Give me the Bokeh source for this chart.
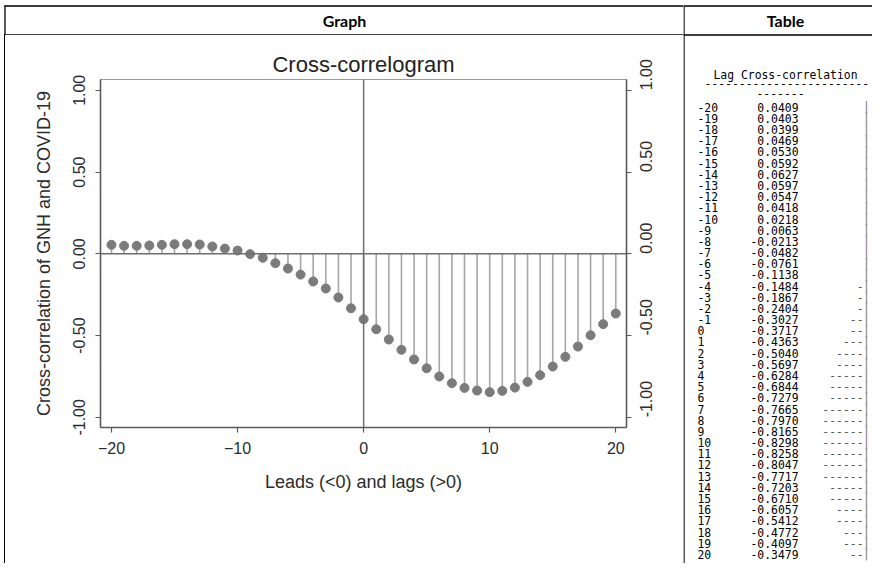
import math
from bokeh.plotting import figure
from bokeh.models import Range1d, LinearAxis, FixedTicker, PrintfTickFormatter, Span, ColumnDataSource, Div
from bokeh.layouts import column, row
from bokeh.embed import file_html
from bokeh.resources import INLINE
from bokeh.core.properties import value

# ---------------- data ----------------
lags = list(range(-20, 21))
graph_ccf = [0.055, 0.049, 0.049, 0.051, 0.055, 0.059, 0.059, 0.057, 0.045, 0.032,
             0.020, -0.002, -0.024, -0.057, -0.090, -0.127, -0.169, -0.212, -0.267, -0.333,
             -0.400, -0.461, -0.524, -0.587, -0.646, -0.700, -0.750, -0.791, -0.820, -0.836,
             -0.846, -0.838, -0.818, -0.783, -0.742, -0.689, -0.630, -0.567, -0.498, -0.430,
             -0.365]
table_ccf = [0.0409, 0.0403, 0.0399, 0.0469, 0.0530, 0.0592, 0.0627, 0.0597, 0.0547, 0.0418,
             0.0218, 0.0063, -0.0213, -0.0482, -0.0761, -0.1138, -0.1484, -0.1867, -0.2404, -0.3027,
             -0.3717, -0.4363, -0.5040, -0.5697, -0.6284, -0.6844, -0.7279, -0.7665, -0.7970, -0.8165,
             -0.8298, -0.8258, -0.8047, -0.7717, -0.7203, -0.6710, -0.6057, -0.5412, -0.4772, -0.4097,
             -0.3479]
table_bar_len = [0, 0, 0, 0, 0, 0, 0, 0, 0, 0, 0, 0, 0, 0, 0, 0,
                 1, 1, 1, 2, 2, 3, 4, 4, 5, 5, 5, 6, 6, 6, 6, 6, 6, 6, 5, 5, 4, 4, 3, 3, 2]
x_ticks = [-20, -10, 0, 10, 20]
y_ticks = [-1.0, -0.5, 0.0, 0.5, 1.0]
title_text = "Cross-correlogram"
x_title = "Leads (<0) and lags (>0)"
y_title = "Cross-correlation of GNH and COVID-19"
header_graph = "Graph"
header_table = "Table"
table_header = "Lag Cross-correlation"

SANS = "Liberation Sans"
MONO = "DejaVu Sans Mono"
TXT = "#2b2b2b"
AX = "#5a5a5a"
HEAD = dict(text_font=value("Lato"), text_font_style="bold", text_font_size="16px",
            text_align="center", text_baseline="middle", text_color="black")


def blank(fig):
    fig.grid.visible = False
    return fig


# ---------------- left header cell ----------------
hdr = blank(figure(width=683, height=35, x_range=Range1d(0, 683), y_range=Range1d(35, 0),
                   min_border=0, x_axis_location=None, y_axis_location=None,
                   toolbar_location=None, output_backend="svg", outline_line_color=None))
hdr.segment(x0=[4, 4, 4.5], y0=[5.5, 34.5, 5], x1=[683, 683, 4.5], y1=[5.5, 34.5, 35],
            line_color="black", line_width=1.3)
hdr.text(x=[344], y=[20], text=[header_graph], **HEAD)

# ---------------- graph ----------------
src = ColumnDataSource(dict(lag=lags, ccf=graph_ccf))
p = figure(frame_width=526, frame_height=348, min_border_left=95, min_border_right=57,
           min_border_top=44, min_border_bottom=136,
           x_range=Range1d(-20.87, 20.85), y_range=Range1d(-1.062, 1.066),
           title=title_text, x_axis_label=x_title, y_axis_label=y_title,
           toolbar_location=None, output_backend="svg")
p.grid.visible = False
p.outline_line_color = "#9a9a9a"
p.outline_line_width = 1.2
p.title.align = "center"
p.title.text_font = SANS
p.title.text_font_size = "22px"
p.title.text_font_style = "normal"
p.title.text_color = "#222222"
p.title.standoff = 5

ytick = FixedTicker(ticks=y_ticks, minor_ticks=[])
xtick = FixedTicker(ticks=x_ticks, minor_ticks=[])
p.xaxis.ticker = xtick
p.yaxis.ticker = ytick
p.yaxis.formatter = PrintfTickFormatter(format="%.2f")
right_axis = LinearAxis(ticker=ytick, formatter=PrintfTickFormatter(format="%.2f"))
p.add_layout(right_axis, "right")

for ax in [p.xaxis[0], p.yaxis[0], right_axis]:
    ax.axis_line_color = AX
    ax.axis_line_width = 1.5
    ax.major_tick_line_color = AX
    ax.major_tick_line_width = 1.2
    ax.major_tick_out = 5
    ax.major_tick_in = 0
    ax.minor_tick_line_color = None
    ax.major_label_text_font = SANS
    ax.major_label_text_font_size = "16px"
    ax.major_label_text_color = TXT
    ax.axis_label_text_font = SANS
    ax.axis_label_text_font_size = "18px"
    ax.axis_label_text_font_style = "normal"
    ax.axis_label_text_color = TXT
p.yaxis[0].major_label_orientation = "vertical"
right_axis.major_label_orientation = math.pi / 2
p.yaxis[0].major_label_standoff = 10
right_axis.major_label_standoff = 15
p.xaxis.major_label_standoff = 9
p.xaxis.axis_label_standoff = 15
p.yaxis[0].axis_label_standoff = 17

p.add_layout(Span(location=0, dimension="width", line_color="#6e6e6e", line_width=1.5))
p.add_layout(Span(location=0, dimension="height", line_color="#6e6e6e", line_width=1.5))
p.segment(x0="lag", y0=0, x1="lag", y1="ccf", source=src, line_color="#a6a6a6", line_width=1.6)
p.scatter("lag", "ccf", source=src, size=9, fill_color="#7b7b7b", line_color="#7b7b7b")

left_line = Div(width=1, height=528, margin=(0, 0, 0, 4), styles={"background-color": "#000000"})
left_col = column(hdr, row(left_line, p))

# ---------------- table cell ----------------
tsrc = ColumnDataSource(dict(
    lag=lags,
    lag_txt=[str(v) for v in lags],
    val_txt=["%.4f" % v for v in table_ccf],
    dash_txt=["-" * n for n in table_bar_len],
    bar_txt=["|" for _ in lags],
))
t = blank(figure(width=189, height=563, x_range=Range1d(683, 872), y_range=Range1d(20.814, -29.544),
                 min_border=0, x_axis_location=None, y_axis_location=None,
                 toolbar_location=None, output_backend="svg", outline_line_color=None))
t.extra_y_ranges = {"px": Range1d(563, 0)}
t.segment(x0=[683, 683, 683.5], y0=[5.5, 34.5, 5], x1=[872, 872, 683.5], y1=[5.5, 34.5, 563],
          line_color="black", line_width=1.3, y_range_name="px")
t.text(x=[785], y=[20], text=[header_table], y_range_name="px", **HEAD)

mono = dict(text_font=value(MONO), text_font_size="11.4px", text_baseline="middle")
t.text(x=697, y="lag", text="lag_txt", source=tsrc, text_align="left", text_color="#000000", **mono)
t.text(x=798, y="lag", text="val_txt", source=tsrc, text_align="right", text_color="#000000", **mono)
t.text(x=863, y="lag", text="dash_txt", source=tsrc, text_align="right", text_color="#555555", **mono)
t.text(x=866, y="lag", text="bar_txt", source=tsrc, text_align="center", text_color="#777777", **mono)
t.text(x=[713, 704, 756], y=[74.3, 83.3, 93.3],
       text=[table_header, "-" * 24, "-" * 7], text_align="left", text_color="#000000",
       y_range_name="px", **mono)

layout = row(left_col, t)
open("out.html", "w").write(file_html(layout, INLINE))
